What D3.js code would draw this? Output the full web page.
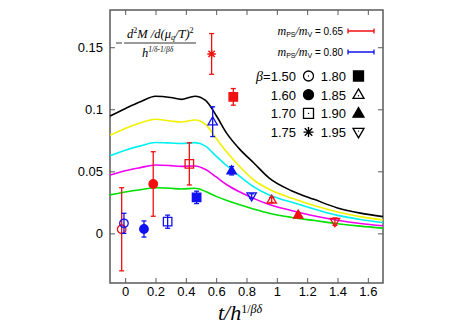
<!DOCTYPE html>
<html>
<head>
<meta charset="utf-8">
<script src="https://cdn.jsdelivr.net/npm/d3@7"></script>
<style>
  body { margin: 0; background: #fff; }
  svg { display: block; }
</style>
</head>
<body>
<svg id="chart"></svg>
<script>
// ---- data ----
const xTicks = [0, 0.2, 0.4, 0.6, 0.8, 1, 1.2, 1.4, 1.6];
const yTicks = [0, 0.05, 0.1, 0.15];

// scaling curves, sampled at curveT
const curveT = [-0.1, 0, 0.1, 0.2, 0.3, 0.37, 0.46, 0.53, 0.6, 0.67, 0.75, 0.85, 0.95, 1.1, 1.25, 1.4, 1.55, 1.7];
const curveBlack   = [0.0946, 0.1005, 0.106, 0.1105, 0.1095, 0.108, 0.1105, 0.1072, 0.095, 0.0806, 0.0685, 0.0565, 0.0445, 0.0342, 0.0272, 0.0205, 0.0163, 0.0135];
const curveYellow  = [0.079, 0.0845, 0.089, 0.092, 0.0905, 0.0897, 0.0914, 0.0878, 0.0765, 0.0655, 0.0545, 0.0428, 0.0355, 0.0282, 0.0222, 0.0172, 0.0135, 0.0108];
const curveCyan    = [0.0626, 0.067, 0.0705, 0.0732, 0.0728, 0.0724, 0.0731, 0.0703, 0.0622, 0.0545, 0.0465, 0.0373, 0.031, 0.025, 0.0195, 0.0145, 0.0112, 0.0087];
const curveMagenta = [0.047, 0.0505, 0.053, 0.0551, 0.0546, 0.054, 0.0543, 0.0515, 0.0455, 0.0392, 0.0337, 0.028, 0.0232, 0.0183, 0.014, 0.0106, 0.008, 0.0061];
const curveGreen   = [0.031, 0.0333, 0.0352, 0.0367, 0.0363, 0.0358, 0.0363, 0.0338, 0.0298, 0.0265, 0.0232, 0.0195, 0.0162, 0.0128, 0.0103, 0.0078, 0.0058, 0.0042];

// m_PS/m_V = 0.65 (red)
const redBeta = ["1.50", "1.60", "1.70", "1.75", "1.80", "1.85", "1.90", "1.95"];
const redT    = [-0.023, 0.185, 0.423, 0.570, 0.713, 0.966, 1.141, 1.383];
const redV    = [0.0033, 0.0398, 0.056, 0.1446, 0.110, 0.0269, 0.0148, 0.0094];
const redErr  = [0.0335, 0.026, 0.017, 0.0164, 0.0067, 0.002, 0.0015, 0.003];

// m_PS/m_V = 0.80 (blue)
const blueBeta = ["1.50", "1.60", "1.70", "1.80", "1.85", "1.90", "1.95"];
const blueT    = [-0.008, 0.124, 0.28, 0.471, 0.577, 0.702, 0.834];
const blueV    = [0.0081, 0.0035, 0.0094, 0.029, 0.090, 0.0505, 0.0301];
const blueErr  = [0.0081, 0.0065, 0.0053, 0.005, 0.012, 0.0034, 0.0018];

const betaList = ["1.50", "1.60", "1.70", "1.75", "1.80", "1.85", "1.90", "1.95"];
const betaMark = ["circleOpen", "circle", "squareOpen", "star", "square", "triOpen", "tri", "triDownOpen"];

// ---- layout ----
const W = 458, H = 324;
const pLeft = 110, pRight = 383, pTop = 10, pBottom = 283;
const axisGray = "#5a5a5a";

const svg = d3.select("#chart").attr("width", W).attr("height", H);
svg.append("rect").attr("width", W).attr("height", H).attr("fill", "#fff");

const x = d3.scaleLinear().domain([-0.1, 1.7]).range([pLeft, pRight]);
const y = d3.scaleLinear().domain([-0.04, 0.18]).range([pBottom, pTop]);

// axes, ticks pointing inward on all four sides
function styleAxis(g) {
  g.select(".domain").remove();
  g.selectAll(".tick line").attr("stroke", axisGray).attr("stroke-width", 1);
  g.selectAll(".tick text")
    .attr("fill", "#000")
    .style("font-family", "'Liberation Sans', Arial, sans-serif")
    .style("font-size", "13px");
}
svg.append("g").attr("transform", `translate(0,${pBottom})`)
  .call(d3.axisBottom(x).tickValues(xTicks).tickSize(-5).tickPadding(4).tickFormat(d => String(d)))
  .call(styleAxis);
svg.append("g").attr("transform", `translate(0,${pTop})`)
  .call(d3.axisTop(x).tickValues(xTicks).tickSize(-5).tickFormat(""))
  .call(styleAxis);
svg.append("g").attr("transform", `translate(${pLeft},0)`)
  .call(d3.axisLeft(y).tickValues(yTicks).tickSize(-5).tickPadding(7).tickFormat(d => String(d)))
  .call(styleAxis);
svg.append("g").attr("transform", `translate(${pRight},0)`)
  .call(d3.axisRight(y).tickValues(yTicks).tickSize(-5).tickFormat(""))
  .call(styleAxis);

svg.append("rect")
  .attr("x", pLeft).attr("y", pTop)
  .attr("width", pRight - pLeft).attr("height", pBottom - pTop)
  .attr("fill", "none").attr("stroke", axisGray).attr("stroke-width", 1.5);

// ---- curves ----
const line = d3.line().x(d => x(d[0])).y(d => y(d[1])).curve(d3.curveMonotoneX);
const curves = [
  [curveBlack, "#000"],
  [curveYellow, "#f2f200"],
  [curveCyan, "#00f0f0"],
  [curveMagenta, "#f000f0"],
  [curveGreen, "#00e000"]
];
const plot = svg.append("g");
curves.slice().reverse().forEach(([vals, col]) => {
  plot.append("path")
    .attr("d", line(curveT.map((t, i) => [t, vals[i]])))
    .attr("fill", "none").attr("stroke", col).attr("stroke-width", 1.6);
});

// ---- markers ----
function markerPath(type, s) {
  const h = s / 2;
  switch (type) {
    case "circle":
    case "circleOpen":
      return d3.symbol(d3.symbolCircle, Math.PI * h * h)();
    case "square":
    case "squareOpen":
      return `M${-h},${-h}H${h}V${h}H${-h}Z`;
    case "tri":
    case "triOpen":
      return `M0,${-h * 1.15}L${h * 1.1},${h * 0.75}L${-h * 1.1},${h * 0.75}Z`;
    case "triDownOpen":
      return `M0,${h * 1.15}L${h * 1.1},${-h * 0.75}L${-h * 1.1},${-h * 0.75}Z`;
    case "star": {
      const d = h * 0.75;
      return `M${-h},0H${h}M0,${-h}V${h}M${-d},${-d}L${d},${d}M${-d},${d}L${d},${-d}`;
    }
  }
}
function drawMarker(g, type, cx, cy, s, color, dot) {
  const open = type.endsWith("Open") || type === "star";
  g.append("path")
    .attr("transform", `translate(${cx},${cy})`)
    .attr("d", markerPath(type, s))
    .attr("fill", open ? (dot ? "#fff" : "none") : color)
    .attr("stroke", color)
    .attr("stroke-width", type === "star" ? 1.4 : 1.3)
    .attr("stroke-linejoin", "miter");
  if (dot && open && type !== "star") {
    g.append("circle").attr("cx", cx).attr("cy", cy + (type.startsWith("tri") ? (type === "triDownOpen" ? -1 : 1) : 0))
      .attr("r", 0.7).attr("fill", color);
  }
}

function drawSeries(betas, ts, vs, errs, color) {
  const g = svg.append("g");
  betas.forEach((b, i) => {
    const cx = x(ts[i]), cy = y(vs[i]);
    const y1 = y(vs[i] - errs[i]), y2 = y(vs[i] + errs[i]);
    g.append("line").attr("x1", cx).attr("x2", cx).attr("y1", y1).attr("y2", y2)
      .attr("stroke", color).attr("stroke-width", 1.3);
    [y1, y2].forEach(yy => g.append("line")
      .attr("x1", cx - 2.5).attr("x2", cx + 2.5).attr("y1", yy).attr("y2", yy)
      .attr("stroke", color).attr("stroke-width", 1.3));
    const type = betaMark[betaList.indexOf(b)];
    drawMarker(g, type, cx, cy, 8.5, color, false);
  });
}
drawSeries(redBeta, redT, redV, redErr, "#f01010");
drawSeries(blueBeta, blueT, blueV, blueErr, "#1010f0");

// ---- y label inside the plot ----
const serif = "'Liberation Serif', 'Times New Roman', serif";
const sans = "'Liberation Sans', Arial, sans-serif";
const lab = svg.append("g").style("font-family", serif).style("font-style", "italic");
lab.append("line").attr("x1", 116).attr("x2", 122).attr("y1", 43).attr("y2", 43).attr("stroke", "#000").attr("stroke-width", 0.8);
lab.append("line").attr("x1", 124).attr("x2", 196).attr("y1", 43).attr("y2", 43).attr("stroke", "#000").attr("stroke-width", 0.8);
const num = lab.append("text").attr("x", 127).attr("y", 38).style("font-size", "12.5px");
num.append("tspan").text("d");
num.append("tspan").attr("dy", -5).style("font-size", "8px").style("font-style", "normal").text("2");
num.append("tspan").attr("dy", 5).text("M /d(");
num.append("tspan").text("μ");
num.append("tspan").attr("dy", 2).style("font-size", "8px").text("q");
num.append("tspan").attr("dy", -2).text("/T)");
num.append("tspan").attr("dy", -5).style("font-size", "8px").style("font-style", "normal").text("2");
const den = lab.append("text").attr("x", 142).attr("y", 57).style("font-size", "12.5px");
den.append("tspan").text("h");
den.append("tspan").attr("dy", -5).style("font-size", "7.5px").text("1/δ-1/βδ");

// ---- x label ----
const xl = svg.append("text").attr("x", 218).attr("y", 320)
  .style("font-family", serif).style("font-style", "italic").style("font-size", "22px");
xl.append("tspan").text("t/h");
xl.append("tspan").attr("dy", -7).style("font-size", "12px").style("font-style", "normal").text("1/");
xl.append("tspan").style("font-size", "12px").text("βδ");

// ---- legend: mass ratios ----
const ratios = [["0.65", "#f01010", 31], ["0.80", "#1010f0", 52]];
ratios.forEach(([r, col, yy]) => {
  const t = svg.append("text").attr("x", 343).attr("y", yy + 4).attr("text-anchor", "end");
  t.append("tspan").style("font-family", serif).style("font-style", "italic").style("font-size", "12px").text("m");
  t.append("tspan").attr("dy", 2).style("font-family", sans).style("font-size", "7px").text("PS");
  t.append("tspan").attr("dy", -2).style("font-family", serif).style("font-style", "italic").style("font-size", "12px").text("/m");
  t.append("tspan").attr("dy", 2).style("font-family", sans).style("font-size", "7px").text("V");
  t.append("tspan").attr("dy", -2).style("font-family", sans).style("font-size", "10px").text(" = " + r);
  svg.append("line").attr("x1", 348).attr("x2", 374).attr("y1", yy).attr("y2", yy).attr("stroke", col).attr("stroke-width", 1.5);
  [348, 374].forEach(xx => svg.append("line").attr("x1", xx).attr("x2", xx).attr("y1", yy - 2.5).attr("y2", yy + 2.5).attr("stroke", col).attr("stroke-width", 1.3));
});

// ---- legend: beta symbols ----
const leg = svg.append("g");
betaList.forEach((b, i) => {
  const col = i < 4 ? 0 : 1;
  const row = i % 4;
  const cy = 76 + row * 18.7;
  const tx = col === 0 ? 296 : 346;
  const mx = col === 0 ? 308.5 : 358.5;
  const t = leg.append("text").attr("x", tx).attr("y", cy + 5).attr("text-anchor", "end")
    .style("font-family", sans).style("font-size", "13px");
  if (i === 0) {
    t.append("tspan").style("font-family", serif).style("font-style", "italic").style("font-size", "14px").text("β");
    t.append("tspan").text("=" + b);
  } else {
    t.text(b);
  }
  drawMarker(leg, betaMark[i], mx, cy, 10, "#000", true);
});
</script>
</body>
</html>
